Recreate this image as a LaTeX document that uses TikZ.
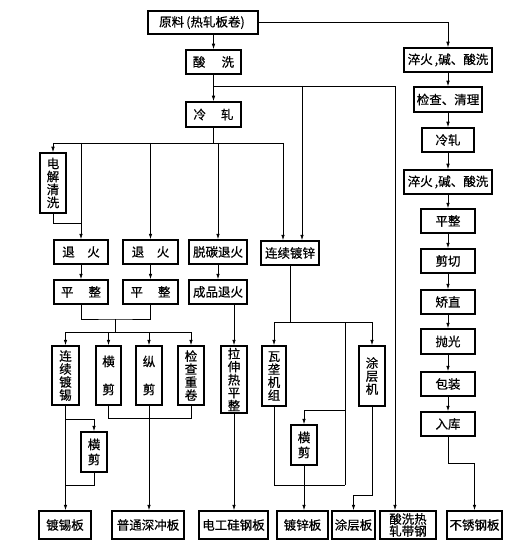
\documentclass[tikz,border=0pt]{standalone}
\usepackage{fontspec}
\setmainfont{Noto Sans CJK SC}[UprightFeatures={FakeBold=0.5}]
\usetikzlibrary{arrows.meta}
\newcommand{\mkbox}[6]{\node[bx, minimum width={(#4-#2)*1pt}, minimum height={(#5-#3)*1pt}] (#1) at ({(#2+#4)/2},{(#3+#5)/2}) {#6};}
\begin{document}
\begin{tikzpicture}[x=1pt,y=-1pt,
  bx/.style={draw, line width=1.5pt, inner sep=0pt, align=center, font=\fontsize{12.5}{13}\selectfont},
  ln/.style={line width=0.8pt},
  arr/.style={ln, -{Latex[length=5.5pt,width=3.6pt]}}]
\fill[white] (0,0) rectangle (522,548);
\useasboundingbox (0,0) rectangle (522,548);
% boxes
\mkbox{raw}{148}{11}{258}{34}{原料\,(热轧板卷)\,}
\mkbox{sx}{186}{50}{241}{74}{酸\hspace{1.3em}洗}
\mkbox{lz}{186}{102}{241}{127}{冷\hspace{1.2em}轧}
\mkbox{dj}{40}{153}{66}{213}{电\\解\\清\\洗}
\mkbox{th1}{54}{240}{108}{264}{退\hspace{1em}火}
\mkbox{pz1}{54}{280}{108}{304}{平\hspace{1.2em}整}
\mkbox{th2}{123}{240}{178}{264}{退\hspace{1em}火}
\mkbox{pz2}{123}{280}{178}{304}{平\hspace{1.2em}整}
\mkbox{tt}{189}{240}{247}{264}{脱碳退火}
\mkbox{cp}{189}{280}{247}{304}{成品退火}
\mkbox{lxd}{261}{241}{319}{265}{连续镀锌}
\mkbox{dx}{52}{346}{79}{405}{连\\续\\镀\\锡}
\mkbox{hj1}{96}{346}{121}{405}{横\\[15pt]剪}
\mkbox{zj}{136}{346}{162}{405}{纵\\[15pt]剪}
\mkbox{jc}{178}{346}{204}{405}{检\\查\\重\\卷}
\mkbox{ls}{221}{346}{247}{413}{拉\\伸\\热\\平\\整}
\mkbox{wl}{262}{346}{286}{406}{瓦\\垄\\机\\组}
\mkbox{tcj}{359}{346}{385}{406}{涂\\层\\机}
\mkbox{hj2}{81}{432}{107}{472}{横\\[2pt]剪}
\mkbox{hj3}{291}{425}{317}{465}{横\\[2pt]剪}
\mkbox{dxb}{39}{511}{91}{539}{镀锡板}
\mkbox{pt}{112}{511}{184}{539}{普通深冲板}
\mkbox{dg}{199}{511}{268}{539}{电工硅钢板}
\mkbox{dzb}{277}{511}{328}{539}{镀锌板}
\mkbox{tcb}{332}{511}{375}{539}{涂层板}
\mkbox{sxr}{380}{511}{436}{539}{酸洗热\\[-1pt]轧带钢}
\mkbox{bxg}{447}{511}{502}{539}{不锈钢板}
\mkbox{r1}{404}{48}{492}{72}{淬火\,,碱、酸洗}
\mkbox{r2}{414}{87}{482}{112}{检查、清理}
\mkbox{r3}{422}{128}{474}{152}{冷轧}
\mkbox{r4}{404}{170}{492}{194}{淬火\,,碱、酸洗}
\mkbox{r5}{421}{209}{475}{233}{平整}
\mkbox{r6}{421}{249}{475}{273}{剪切}
\mkbox{r7}{421}{290}{475}{314}{矫直}
\mkbox{r8}{421}{329}{475}{354}{抛光}
\mkbox{r9}{421}{372}{475}{396}{包装}
\mkbox{r10}{421}{412}{475}{436}{入库}
% helper coordinates
\coordinate (y86) at (0,86);
\coordinate (y143) at (0,143);
\coordinate (y223) at (0,223);
\coordinate (y322) at (0,322);
\coordinate (y410) at (0,410);
\coordinate (y418) at (0,418);
\coordinate (y419) at (0,419);
\coordinate (y463) at (0,463);
\coordinate (y485) at (0,485);
\coordinate (y495) at (0,495);
\coordinate (j4) at (115,319);
\coordinate (j5) at (115,332);
\coordinate (j9) at (345,322);
\coordinate (j10) at (345,485);
\coordinate (lxdA) at ([xshift=-7pt]lxd.north);
\coordinate (lxdB) at ([xshift=12pt]lxd.north);
\coordinate (sxrA) at ([xshift=-13pt]sxr.north);
% connectors
\draw[arr] (raw.south -| sx.north) -- (sx.north);
\draw[arr] (raw.east) -| (r1.north);
\draw[arr] (sx.south) -- (lz.north);
\draw[arr] (sx.south |- y86) -| (sxrA);
\draw[arr] (lxdB |- y86) -- (lxdB);
\draw[ln] (lz.south) -- (lz.south |- y143);
\draw[ln] (dj.north |- y143) -- (lxdA |- y143);
\draw[arr] (dj.north |- y143) -- (dj.north);
\draw[arr] (th1.north |- y143) -- (th1.north);
\draw[arr] (th2.north |- y143) -- (th2.north);
\draw[arr] (tt.north |- y143) -- (tt.north);
\draw[arr] (lxdA |- y143) -- (lxdA);
\draw[ln] (dj.south) |- (th1.north |- y223);
\draw[arr] (th1) -- (pz1);
\draw[arr] (th2) -- (pz2);
\draw[arr] (tt) -- (cp);
\draw[ln] (pz1.south) |- (j4) -| (pz2.south);
\draw[ln] (j4) -- (j5);
\draw[ln] (dx.north |- j5) -- (jc.north |- j5);
\draw[arr] (dx.north |- j5) -- (dx.north);
\draw[arr] (hj1.north |- j5) -- (hj1.north);
\draw[arr] (zj.north |- j5) -- (zj.north);
\draw[arr] (jc.north |- j5) -- (jc.north);
\draw[arr] (cp.south -| ls.north) -- (ls.north);
\draw[ln] (hj1.south) |- (jc.south |- y418) -- (jc.south);
\draw[arr] (zj.south) -- (zj.south |- pt.north);
\draw[arr] (dx.south) -- (dx.south |- dxb.north);
\draw[arr] (dx.south |- y419) -| (hj2.north);
\draw[ln] (hj2.south) |- (dx.south |- y485);
\draw[arr] (ls.south) -- (ls.south |- dg.north);
\draw[ln] (lxd.south) -- (lxd.south |- y322);
\draw[ln] (wl.north |- y322) -- (tcj.north |- y322);
\draw[arr] (wl.north |- y322) -- (wl.north);
\draw[arr] (tcj.north |- y322) -- (tcj.north);
\draw[ln] (j9) -- (j10);
\draw[arr] (j9 |- y410) -| (hj3.north);
\draw[ln] (wl.south) |- (j10);
\draw[arr] (hj3.south) -- (hj3.south |- dzb.north);
\draw[arr] (tcj.south) |- (tcb.north |- y495) -- (tcb.north);
\draw[arr] (r1) -- (r2);
\draw[arr] (r2) -- (r3);
\draw[arr] (r3) -- (r4);
\draw[arr] (r4) -- (r5);
\draw[arr] (r5) -- (r6);
\draw[arr] (r6) -- (r7);
\draw[arr] (r7) -- (r8);
\draw[arr] (r8) -- (r9);
\draw[arr] (r9) -- (r10);
\draw[arr] (r10.south) |- (bxg.north |- y463) -- (bxg.north);
\end{tikzpicture}
\end{document}
